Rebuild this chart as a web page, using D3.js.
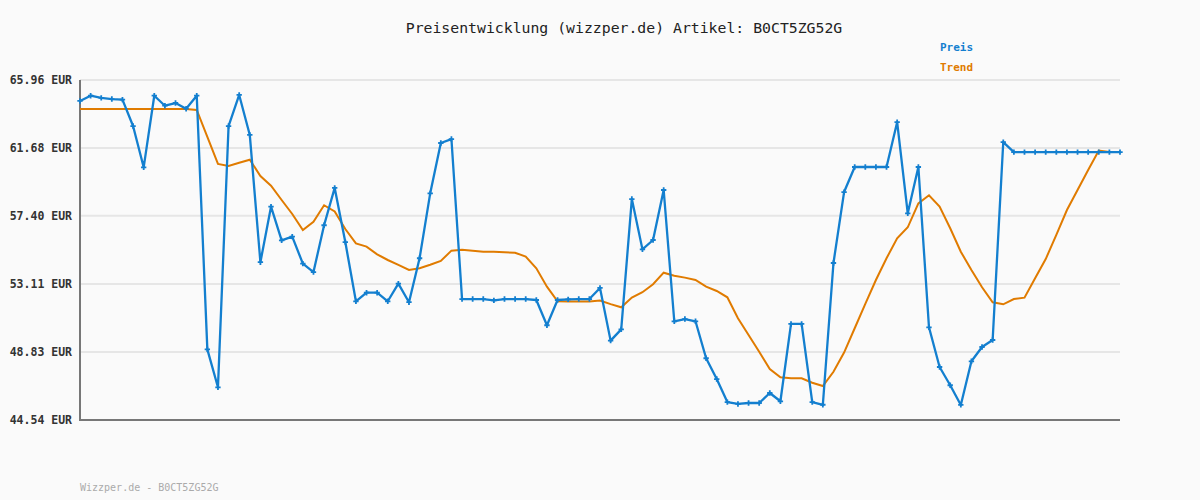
<!DOCTYPE html>
<html><head><meta charset="utf-8">
<script src="https://cdn.jsdelivr.net/npm/d3@7"></script>
<style>html,body{margin:0;padding:0;background:#fafafa;}svg{display:block;}</style>
</head><body>
<svg id="chart" width="1200" height="500"></svg>
<script>
const title = "Preisentwicklung (wizzper.de) Artikel: B0CT5ZG52G";
const footer = "Wizzper.de - B0CT5ZG52G";
const seriesNames = ["Preis", "Trend"];
const yTicks = [44.54, 48.83, 53.11, 57.40, 61.68, 65.96];
const preis = [64.64,64.97,64.83,64.76,64.72,63.06,60.46,64.97,64.34,64.51,
64.15,64.97,48.99,46.60,63.06,65.02,62.50,54.48,57.98,55.86,
56.09,54.39,53.86,56.81,59.16,55.75,52.02,52.56,52.56,52.02,
53.13,51.96,54.73,58.82,61.99,62.24,52.16,52.16,52.16,52.08,
52.16,52.16,52.16,52.10,50.51,52.10,52.14,52.16,52.16,52.86,
49.54,50.25,58.46,55.29,55.88,59.03,50.76,50.90,50.76,48.43,
47.12,45.67,45.55,45.61,45.61,46.24,45.72,50.59,50.59,45.67,
45.50,54.43,58.90,60.48,60.48,60.48,60.48,63.30,57.56,60.48,
50.38,47.88,46.73,45.49,48.24,49.14,49.58,62.05,61.42,61.42,
61.42,61.42,61.42,61.42,61.42,61.42,61.42,61.42,61.42];
const trend = [64.13,64.13,64.13,64.13,64.13,64.13,64.13,64.13,64.13,64.13,
64.13,64.07,62.37,60.67,60.54,60.75,60.94,59.91,59.30,58.40,
57.52,56.51,57.03,58.07,57.68,56.57,55.67,55.46,54.98,54.62,
54.31,53.99,54.10,54.32,54.56,55.21,55.27,55.21,55.14,55.14,
55.11,55.08,54.83,54.10,52.94,52.02,52.00,52.00,52.00,52.07,
51.84,51.64,52.25,52.59,53.09,53.82,53.63,53.51,53.36,52.94,
52.67,52.27,50.95,49.90,48.84,47.75,47.23,47.17,47.17,46.89,
46.68,47.58,48.79,50.32,51.85,53.36,54.73,55.99,56.68,58.19,
58.70,57.98,56.62,55.14,53.99,52.90,51.96,51.83,52.16,52.25,
53.47,54.68,56.20,57.77,59.03,60.29,61.51,61.42,61.42];

const svg = d3.select("#chart");
const m = {left:80, right:1120, top:80, bottom:420};
const x = d3.scaleLinear().domain([0, preis.length-1]).range([m.left, m.right]);
const y = d3.scaleLinear().domain([yTicks[0], yTicks[yTicks.length-1]]).range([m.bottom, m.top]);
const mono = "'DejaVu Sans Mono', 'Liberation Mono', monospace";
const blue = "#137fcf", orange = "#e07b00";

svg.append("rect").attr("width",1200).attr("height",500).attr("fill","#fafafa");

// grid
svg.append("g").selectAll("line").data(yTicks.slice(1)).join("line")
  .attr("x1", m.left).attr("x2", m.right)
  .attr("y1", d=>y(d)).attr("y2", d=>y(d))
  .attr("stroke","#e6e6e6").attr("stroke-width",2);

// y axis
const yAxis = d3.axisLeft(y).tickValues(yTicks).tickSize(0).tickPadding(8)
  .tickFormat(d => d.toFixed(2) + " EUR");
const ga = svg.append("g").attr("transform",`translate(${m.left},0)`).call(yAxis);
ga.select(".domain").remove();
ga.selectAll("text").attr("font-family", mono).attr("font-size", "11.5px")
  .attr("font-weight","bold").attr("fill","#333");

// axis lines
svg.append("line").attr("x1",m.left).attr("x2",m.left).attr("y1",m.top).attr("y2",m.bottom+1)
  .attr("stroke","#777").attr("stroke-width",2);
svg.append("line").attr("x1",m.left-1).attr("x2",m.right).attr("y1",m.bottom).attr("y2",m.bottom)
  .attr("stroke","#777").attr("stroke-width",2);

const line = d3.line().x((d,i)=>x(i)).y(d=>y(d));
svg.append("path").attr("d", line(trend)).attr("fill","none")
  .attr("stroke",orange).attr("stroke-width",2);
svg.append("path").attr("d", line(preis)).attr("fill","none")
  .attr("stroke",blue).attr("stroke-width",2.3).attr("stroke-linejoin","round");
svg.append("g").selectAll("path").data(preis).join("path")
  .attr("transform",(d,i)=>`translate(${x(i)},${y(d)})`)
  .attr("d", d3.symbol(d3.symbolCross, 16)())
  .attr("fill", blue);

// title
svg.append("text").attr("x",624).attr("y",33).attr("text-anchor","middle")
  .attr("font-family",mono).attr("font-size","14.8px").attr("fill","#222").text(title);

// legend
const lg = svg.append("g");
[[seriesNames[0], blue, 51], [seriesNames[1], orange, 71]].forEach(([t,c,yy]) => {
  lg.append("text").attr("x",940).attr("y",yy).attr("font-family",mono)
    .attr("font-size","11px").attr("font-weight","bold").attr("fill",c).text(t);
});

// footer
svg.append("text").attr("x",80).attr("y",491).attr("font-family",mono)
  .attr("font-size","10px").attr("fill","#aaa").text(footer);
</script>
</body></html>
